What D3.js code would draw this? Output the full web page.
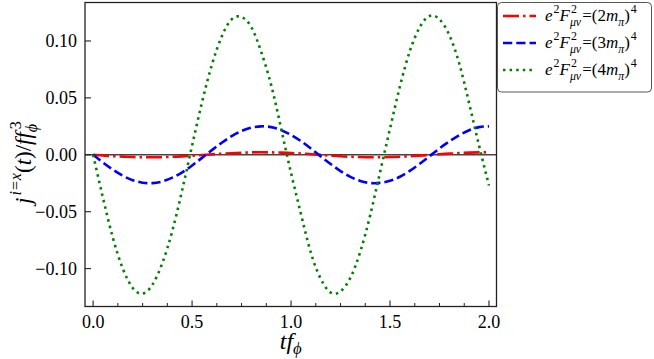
<!DOCTYPE html>
<html>
<head>
<meta charset="utf-8">
<script src="https://cdn.jsdelivr.net/npm/d3@7"></script>
<style>
  body { margin: 0; background: #fff; }
  svg { display: block; }
</style>
</head>
<body>
<div id="chart"></div>
<script>
// sample times (t f_phi)
const times = [0.00, 0.05, 0.10, 0.15, 0.20, 0.25, 0.30, 0.35, 0.40, 0.45,
               0.50, 0.55, 0.60, 0.65, 0.70, 0.75, 0.80, 0.85, 0.90, 0.95,
               1.00, 1.05, 1.10, 1.15, 1.20, 1.25, 1.30, 1.35, 1.40, 1.45,
               1.50, 1.55, 1.60, 1.65, 1.70, 1.75, 1.80, 1.85, 1.90, 1.95, 2.00];

// e^2 F^2 = (2 m_pi)^4
const red2 = [0, -0.0006, -0.0012, -0.0016, -0.0020, -0.0022, -0.0022, -0.0021, -0.0018, -0.0014,
              -0.0008, -0.0002, 0.0004, 0.0009, 0.0014, 0.0018, 0.0021, 0.0022, 0.0021, 0.0019,
              0.0015, 0.0011, 0.0005, -0.0001, -0.0007, -0.0013, -0.0017, -0.0020, -0.0022, -0.0022,
              -0.0020, -0.0017, -0.0012, -0.0007, -0.0001, 0.0005, 0.0010, 0.0015, 0.0019, 0.0021, 0.0022];

// e^2 F^2 = (3 m_pi)^4
const blue3 = [0, -0.0068, -0.0131, -0.0184, -0.0223, -0.0245, -0.0249, -0.0234, -0.0201, -0.0154,
               -0.0094, -0.0027, 0.0041, 0.0106, 0.0164, 0.0209, 0.0239, 0.0250, 0.0243, 0.0217,
               0.0174, 0.0120, 0.0055, -0.0014, -0.0081, -0.0143, -0.0194, -0.0230, -0.0248, -0.0247,
               -0.0229, -0.0193, -0.0141, -0.0079, -0.0012, 0.0056, 0.0118, 0.0173, 0.0216, 0.0243, 0.0250];

// e^2 F^2 = (4 m_pi)^4
const green4 = [0, -0.038, -0.073, -0.100, -0.117, -0.122, -0.114, -0.095, -0.067, -0.031,
                0.008, 0.046, 0.079, 0.104, 0.119, 0.121, 0.112, 0.090, 0.061, 0.023,
                -0.016, -0.052, -0.086, -0.109, -0.121, -0.120, -0.108, -0.085, -0.053, -0.015,
                0.023, 0.060, 0.091, 0.112, 0.122, 0.119, 0.105, 0.080, 0.045, 0.008, -0.027];

const seriesMass = ['2', '3', '4'];
const xTicks = [0.0, 0.5, 1.0, 1.5, 2.0];
const xMinorTicks = [0.125, 0.25, 0.375, 0.625, 0.75, 0.875, 1.125, 1.25, 1.375, 1.625, 1.75, 1.875];
const yTicks = [-0.10, -0.05, 0.00, 0.05, 0.10];

const FONT = "'Liberation Serif'";

const width = 654, height = 359;
const margin = { top: 2.5, right: 157.5, bottom: 52.5, left: 85 };
const plotW = width - margin.left - margin.right;
const plotH = height - margin.top - margin.bottom;

const svg = d3.select('#chart').append('svg')
    .attr('width', width)
    .attr('height', height);

const x = d3.scaleLinear().domain([-0.041, 2.038]).range([0, plotW]);
const y = d3.scaleLinear().domain([-0.1333, 0.1338]).range([plotH, 0]);

const g = svg.append('g').attr('transform', `translate(${margin.left},${margin.top})`);

// simple math-like text: parts with base text plus optional sup/sub
function mathText(sel, parts, size, x0, y0) {
    let cx = x0;
    const addText = (tx, ty, fs, it, str) => sel.append('text')
        .attr('x', tx).attr('y', ty)
        .style('font-family', FONT)
        .style('font-size', fs + 'px')
        .style('font-style', it ? 'italic' : 'normal')
        .text(str);
    parts.forEach(p => {
        let w = 0;
        if (p.t) {
            w = addText(cx, y0, size, p.it, p.t).node().getComputedTextLength();
        }
        let extra = 0;
        if (p.sup) {
            const s = addText(cx + w + (p.supDx || 0), y0 - size * 0.45, size * 0.7, p.supIt, p.sup);
            extra = Math.max(extra, s.node().getComputedTextLength() + (p.supDx || 0));
        }
        if (p.sub) {
            const s = addText(cx + w + (p.subDx || 0), y0 + size * (p.subY || 0.28), size * 0.7, p.subIt, p.sub);
            extra = Math.max(extra, s.node().getComputedTextLength() + (p.subDx || 0));
        }
        cx += w + extra + (p.sp || 0);
    });
    return cx - x0;
}

// zero line
g.append('line')
    .attr('x1', 0).attr('x2', plotW)
    .attr('y1', y(0)).attr('y2', y(0))
    .attr('stroke', '#444')
    .attr('stroke-width', 1.5);

// curves
const series = [
    { values: red2, color: '#ff0000', dash: '16,4,2.5,4' },
    { values: blue3, color: '#0000ff', dash: '9.25,4' },
    { values: green4, color: '#008000', dash: '2.5,4.1' }
];

const line = d3.line()
    .x((d, i) => x(times[i]))
    .y(d => y(d))
    .curve(d3.curveNatural);

series.forEach(s => {
    g.append('path')
        .datum(s.values)
        .attr('d', line)
        .attr('fill', 'none')
        .attr('stroke', s.color)
        .attr('stroke-width', 2.6)
        .attr('stroke-dasharray', s.dash);
});

// frame
g.append('rect')
    .attr('x', 0).attr('y', 0)
    .attr('width', plotW).attr('height', plotH)
    .attr('fill', 'none')
    .attr('stroke', '#222')
    .attr('stroke-width', 1.3);

// x ticks
xTicks.forEach(t => {
    g.append('line')
        .attr('x1', x(t)).attr('x2', x(t))
        .attr('y1', plotH).attr('y2', plotH - 6)
        .attr('stroke', '#222').attr('stroke-width', 1.1);
    g.append('text')
        .attr('x', x(t)).attr('y', plotH + 21)
        .attr('text-anchor', 'middle')
        .style('font-family', FONT)
        .style('font-size', '18px')
        .text(t.toFixed(1));
});
xMinorTicks.forEach(t => {
    g.append('line')
        .attr('x1', x(t)).attr('x2', x(t))
        .attr('y1', plotH).attr('y2', plotH - 3.5)
        .attr('stroke', '#222').attr('stroke-width', 1);
});

// y ticks
yTicks.forEach(t => {
    g.append('line')
        .attr('x1', 0).attr('x2', 6)
        .attr('y1', y(t)).attr('y2', y(t))
        .attr('stroke', '#222').attr('stroke-width', 1.1);
    g.append('text')
        .attr('x', -8).attr('y', y(t) + 6)
        .attr('text-anchor', 'end')
        .style('font-family', FONT)
        .style('font-size', '18px')
        .text(d3.format('.2f')(t).replace('-', '\u2212'));
});

// x label
const xLab = svg.append('g');
const xw = mathText(xLab, [
    { t: 't', it: true },
    { t: 'f', it: true, sub: '\u03d5', subIt: true, subDx: 0, subY: 0.2 }
], 24, 0, 0);
xLab.attr('transform', `translate(${margin.left + plotW / 2 - xw / 2},349)`);

// y label
const yLab = svg.append('g');
const yw = mathText(yLab, [
    { t: 'j', it: true, sup: 'i=x', supIt: true, supDx: 2 },
    { t: '(' },
    { t: 't', it: true },
    { t: ')/' },
    { t: 'f', it: true },
    { t: 'f', it: true, sup: '3', sub: '\u03d5', subIt: true, supDx: 3, subDx: 0 }
], 23, 0, 0);
yLab.attr('transform', `translate(31,${margin.top + plotH / 2 + yw / 2 + 8}) rotate(-90)`);

// legend
const legend = svg.append('g');
legend.append('rect')
    .attr('x', 497.5).attr('y', 2.5)
    .attr('width', 154).attr('height', 89.5)
    .attr('rx', 4)
    .attr('fill', '#fff')
    .attr('stroke', '#555')
    .attr('stroke-width', 1);

const rowY = [16, 43, 70];
series.forEach((s, i) => {
    legend.append('line')
        .attr('x1', 503).attr('x2', 536)
        .attr('y1', rowY[i]).attr('y2', rowY[i])
        .attr('stroke', s.color)
        .attr('stroke-width', 2.6)
        .attr('stroke-dasharray', s.dash);
    mathText(legend, [
        { t: 'e', it: true, sup: '2', supDx: 1 },
        { t: 'F', it: true, sup: '2', sub: '\u03bc\u03bd', subIt: true, supDx: 1, sp: 1 },
        { t: '=(' + seriesMass[i] },
        { t: 'm', it: true, sub: '\u03c0', subIt: true },
        { t: ')', sup: '4', supDx: 1 }
    ], 17, 545, rowY[i] + 5);
});
</script>
</body>
</html>
